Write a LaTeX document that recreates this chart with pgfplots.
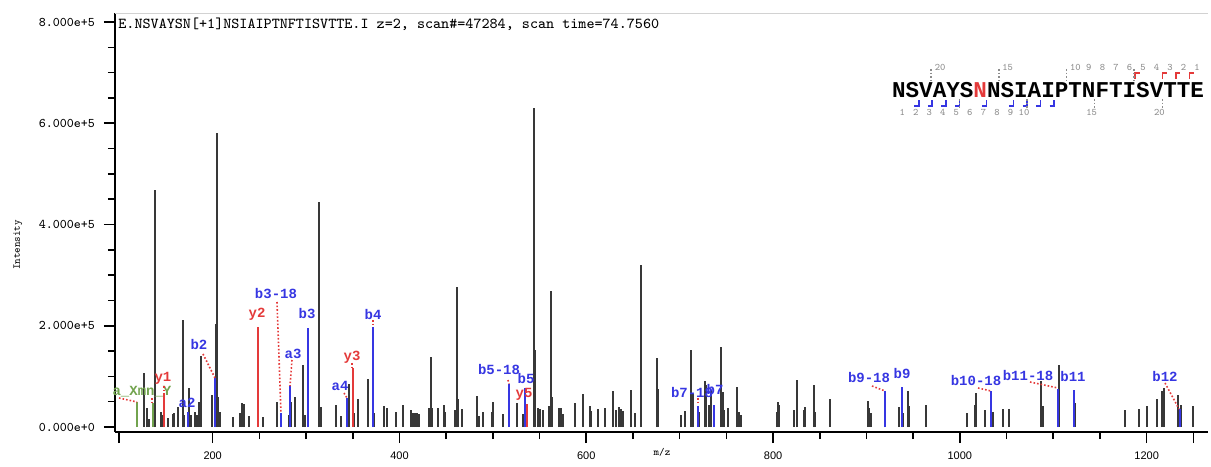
\documentclass[border=0pt]{standalone}
\usepackage{fontspec}
\usepackage{pgfplots}
\usepackage{pgfplotstable}
\pgfplotsset{compat=1.18}
\setmainfont{Liberation Sans}
\newfontfamily\lmono{Liberation Mono}
\definecolor{pk}{HTML}{383838}
\definecolor{bion}{HTML}{3636E2}
\definecolor{yion}{HTML}{E43A3A}
\definecolor{gion}{HTML}{72A34E}
\definecolor{numgray}{HTML}{8C8C8C}

% m/z, intensity
\pgfplotstableread{
mz int
126.4 106000
129.3 37000
132.1 15000
138.5 468000
144.3 30000
145.7 24000
151.8 17000
157.2 26000
158.6 27000
162.8 40000
168.2 211000
169.3 24000
174.6 78000
177.1 24000
180.7 30000
183.5 24000
185.7 50000
187.2 140000
199.6 63000
203.5 203000
204.3 581000
205.7 60000
207.8 30000
221.4 20000
229.2 27000
231.4 47000
233.5 45000
239.2 22000
254.2 20000
269.2 50000
282.0 24000
284.2 50000
288.4 60000
296.4 122000
299.1 24000
313.8 445000
315.6 40000
332.3 43000
337.0 22000
346.3 84000
351.0 27000
355.6 55000
366.0 95000
373.0 27000
383.4 42000
386.3 37000
396.3 30000
404.1 43000
412.6 34000
414.8 27000
416.9 27000
419.1 27000
421.2 26000
431.9 38000
433.4 139000
434.8 38000
440.9 38000
447.6 43000
449.0 30000
459.8 34000
461.3 277000
462.6 55000
466.9 36000
482.7 61000
485.4 22000
489.7 30000
498.7 30000
500.1 49000
510.5 25000
526.1 47000
532.6 25000
544.0 630000
545.4 152000
548.3 38000
550.4 36000
553.3 34000
560.4 41000
562.2 269000
563.3 60000
570.5 37000
572.6 38000
574.8 25000
588.2 47000
596.8 65000
604.0 42000
605.4 32000
612.5 36000
620.0 38000
628.9 71000
631.8 33000
634.7 40000
636.8 36000
639.0 32000
647.5 74000
652.5 27000
658.3 320000
675.4 136000
676.8 76000
701.7 24000
706.0 32000
712.4 152000
714.6 66000
721.0 30000
726.8 90000
728.2 83000
731.7 43000
733.9 73000
743.9 159000
746.1 70000
747.5 34000
751.7 38000
761.7 80000
763.8 30000
766.0 24000
803.9 30000
805.3 49000
806.7 43000
822.4 34000
826.0 93000
833.1 34000
834.5 39000
843.8 82000
845.2 30000
861.0 55000
901.6 52000
903.0 37000
904.5 27000
919.5 30000
935.1 39000
939.4 27000
944.5 71000
945.9 41000
963.4 43000
1007.3 28000
1016.5 43000
1017.2 68000
1027.2 34000
1035.8 30000
1046.5 36000
1052.3 36000
1087.2 90000
1088.7 41000
1106.5 122000
1123.6 47000
1176.5 34000
1192.1 36000
1200.7 41000
1211.4 55000
1216.8 71000
1218.6 78000
1233.5 63000
1236.4 43000
1249.3 41000
}\peaks

% b / a ions
\pgfplotstableread{
mz int
173.6 30000
202.5 96000
272.8 27000
282.8 81000
302.0 196000
344.1 57000
372.0 198000
517.6 84000
534.7 78000
719.6 41000
736.8 43000
920.2 71000
938.4 80000
1033.6 71000
1105.0 76000
1122.5 73000
1235.7 35000
}\bions

% y ions
\pgfplotstableread{
mz int
148.2 63000
248.8 198000
349.9 116000
536.2 45000
}\yions

\pgfplotstableread{
mz int
119.3 50000
135.8 47000
}\gions

\begin{document}
\begin{tikzpicture}
\begin{axis}[
  at={(57.5pt,16pt)}, anchor=south west,
  scale only axis, width=546.5pt, height=209.5pt,
  xmin=95.4, xmax=1265.7,
  ymin=-9877, ymax=817800,
  axis x line*=bottom, axis y line*=left,
  axis line style={-, line width=0.9pt, black},
  tick align=outside,
  major tick length=5.5pt, minor tick length=3.5pt,
  tick style={black, line width=0.8pt},
  xtick={200,400,600,800,1000,1200},
  xticklabels={200,400,600,800,1000,1200},
  minor x tick num=3,
  extra x ticks={100,1250}, extra x tick labels={},
  ytick={0,200000,400000,600000,800000},
  yticklabels={0.000e+0,2.000e+5,4.000e+5,6.000e+5,8.000e+5},
  minor y tick num=3,
  xticklabel style={font=\fontsize{5.5}{6}\selectfont, yshift=-1pt},
  yticklabel style={font=\ttfamily\fontsize{6.6}{7}\selectfont, xshift=-1pt},
  scaled ticks=false,
  clip=false,
]
\addplot[ycomb, pk, line width=1.1pt] table[x=mz,y=int] {\peaks};
\addplot[ycomb, bion, line width=1pt] table[x=mz,y=int] {\bions};
\addplot[ycomb, yion, line width=1pt] table[x=mz,y=int] {\yions};
\addplot[ycomb, gion, line width=1pt] table[x=mz,y=int] {\gions};
\draw[gray!35, line width=0.5pt] (rel axis cs:0,1) -- (rel axis cs:1,1);
\end{axis}

% annotations in image pixel coordinates
\begin{scope}[x=0.5pt, y=-0.5pt, yshift=232pt]
\path[use as bounding box] (0,0) rectangle (1211,464);
\node[anchor=west, inner sep=0, font=\ttfamily\fontsize{7.6}{8}\selectfont] at (118,24)
  {E.NSVAYSN[+1]NSIAIPTNFTISVTTE.I z=2, scan\#=47284, scan time=74.7560};
\node[rotate=90, font=\ttfamily\fontsize{5.2}{6}\selectfont] at (18,245) {Intensity};
\node[font=\ttfamily\fontsize{5.2}{6}\selectfont] at (662,452) {m/z};

% ion labels
\begin{scope}[font=\lmono\bfseries\fontsize{7}{8}\selectfont, inner sep=0]
\node[gion] at (142,392) {a\_Xmn\_Y};
\node[yion] at (163,378) {y1};
\node[bion] at (187,403) {a2};
\node[bion] at (199,344) {b2};
\node[yion] at (257,314) {y2};
\node[bion] at (276,294) {b3-18};
\node[bion] at (293,354) {a3};
\node[bion] at (307,314) {b3};
\node[bion] at (340,386) {a4};
\node[yion] at (352,357) {y3};
\node[bion] at (373,314) {b4};
\node[bion] at (499,369) {b5-18};
\node[bion] at (526,378) {b5};
\node[yion] at (524,394) {y5};
\node[bion] at (692,392) {b7-18};
\node[bion] at (715,389) {b7};
\node[bion] at (869,377) {b9-18};
\node[bion] at (902,373) {b9};
\node[bion] at (976,380) {b10-18};
\node[bion] at (1028,375) {b11-18};
\node[bion] at (1073,376) {b11};
\node[bion] at (1165,376) {b12};
\end{scope}
\begin{scope}[yion, densely dotted, line width=0.8pt]
\draw (119,398) -- (137,402);
\draw (152,398) -- (152,404);
\draw (164,386) -- (164,395);
\draw (203,354) -- (215,378);
\draw (277,302) -- (281,413);
\draw (292,360) -- (290,386);
\draw (344,393) -- (347,398);
\draw (352,363) -- (352,368);
\draw (373,320) -- (373,324);
\draw (508,380) -- (509,384);
\draw (698,398) -- (698,404);
\draw (872,386) -- (885,391);
\draw (978,388) -- (991,391);
\draw (1030,382) -- (1058,388);
\draw (1165,383) -- (1179,409);
\end{scope}

% peptide sequence
\node[anchor=west, inner sep=0, font=\lmono\bfseries\fontsize{11.3}{12}\selectfont] at (891.7,90)
  {NSVAYS\textcolor{yion}{N}NSIAIPTNFTISVTTE};
\foreach \b in {18,20,21,22}
  \draw[yion, line width=0.8pt] ({891.7+13.53*\b},79) -- ({891.7+13.53*\b},73) -- ({891.7+13.53*\b+4.5},73);
\foreach \b in {2,3,4,5,7,9,10,11,12}
  \draw[bion, line width=0.8pt] ({891.7+13.53*\b-4.5},106) -- ({891.7+13.53*\b},106) -- ({891.7+13.53*\b},100);
\begin{scope}[numgray, font=\ttfamily\fontsize{5}{6}\selectfont, inner sep=0]
\foreach \n in {1,...,10,15,20}
  \node at ({891.7+13.53*(23-\n+0.5)+1},67) {\n};
\foreach \n in {1,...,10,15,20}
  \node at ({891.7+13.53*\n-3},112) {\n};
\foreach \b in {3,8,13,18}
  \draw[densely dotted, line width=0.8pt] ({891.7+13.53*\b-1},69) -- ({891.7+13.53*\b-1},80);
\foreach \b in {5,10,15,20}
  \draw[densely dotted, line width=0.8pt] ({891.7+13.53*\b},99) -- ({891.7+13.53*\b},108);
\end{scope}
\end{scope}
\end{tikzpicture}
\end{document}
